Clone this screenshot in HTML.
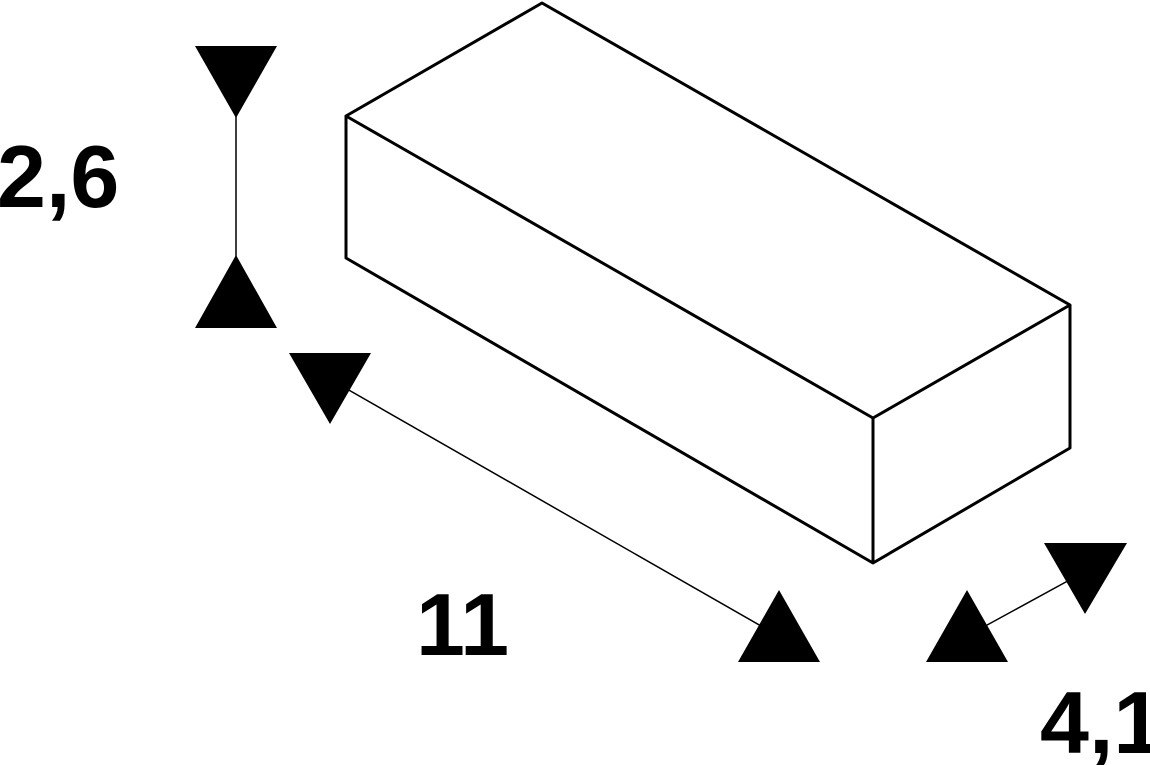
<!DOCTYPE html>
<html><head><meta charset="utf-8"><style>
html,body{margin:0;padding:0;background:#fff;}
svg{display:block}
text{font-family:"Liberation Sans",Arial,sans-serif;font-weight:bold;fill:#000}
</style></head><body>
<svg width="1150" height="765" viewBox="0 0 1150 765" xmlns="http://www.w3.org/2000/svg">
<g fill="none" stroke="#000" stroke-width="3" stroke-linejoin="round">
<polygon points="542,3 346,116 873,418 1070,305"/>
<polyline points="346,116 346,258 873,563 1070,448 1070,305"/>
<line x1="873" y1="418" x2="873" y2="563"/>
</g>
<g stroke="#000" stroke-width="1.5">
<line x1="236" y1="110" x2="236" y2="265"/>
<line x1="340" y1="385" x2="768" y2="630"/>
<line x1="978" y1="630" x2="1075" y2="577"/>
</g>
<g fill="#000">
<polygon points="195,46 277,46 236,118"/>
<polygon points="236,255 195,328 277,328"/>
<polygon points="289,353 371,353 330,424"/>
<polygon points="779,590 738,662 820,662"/>
<polygon points="967,590 926,662 1008,662"/>
<polygon points="1044,543 1127,543 1085,614"/>
</g>
<text x="-3" y="207" font-size="88">2,6</text>
<text x="416" y="655" font-size="88">11</text>
<text x="1040" y="753" font-size="88">4,1</text>
</svg>
</body></html>
